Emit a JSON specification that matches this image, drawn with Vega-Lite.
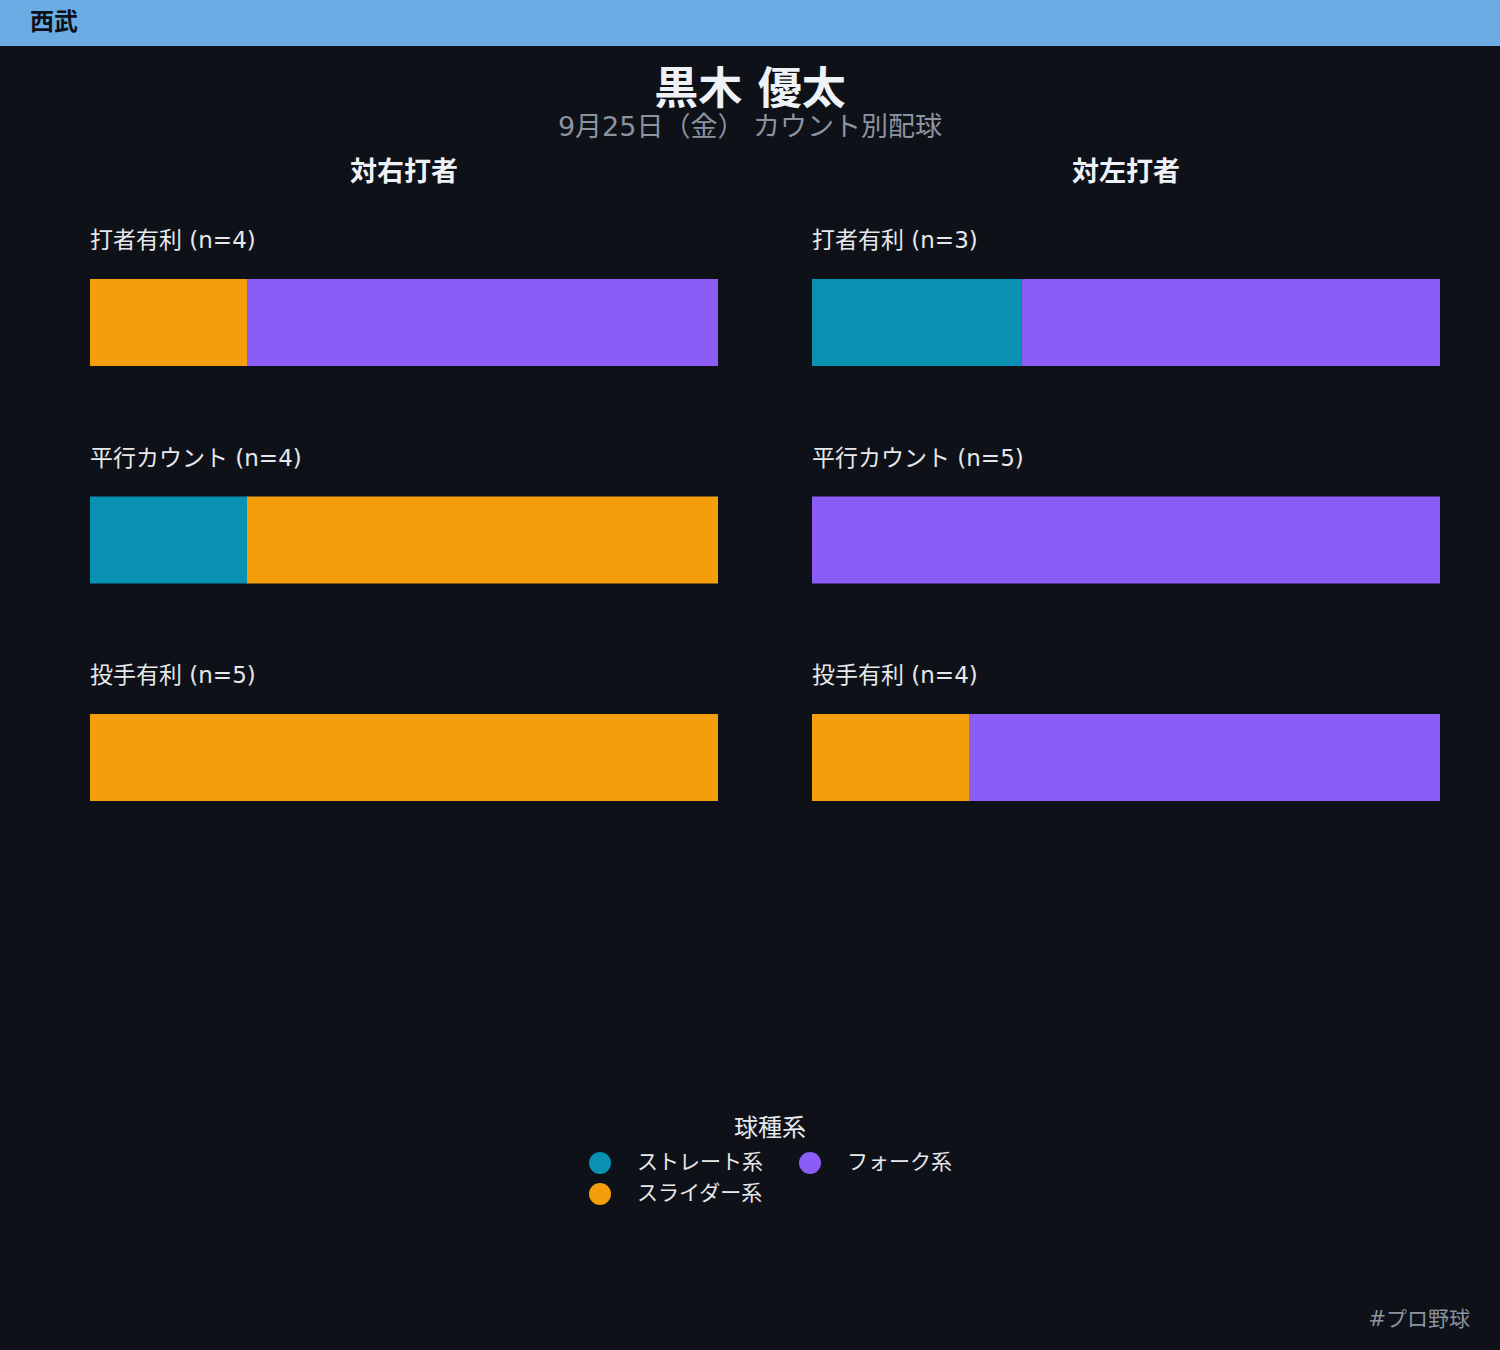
{
  "$schema": "https://vega.github.io/schema/vega-lite/v6.json",
  "background": "#0e1117",
  "padding": 0,
  "spacing": 23,
  "datasets": {
    "pitches": [
      {"side": "対右打者", "sit": "打者有利", "label": "打者有利 (n=4)", "type": "スライダー系", "ord": 2, "count": 1},
      {"side": "対右打者", "sit": "打者有利", "label": "打者有利 (n=4)", "type": "フォーク系", "ord": 3, "count": 3},
      {"side": "対右打者", "sit": "平行カウント", "label": "平行カウント (n=4)", "type": "ストレート系", "ord": 1, "count": 1},
      {"side": "対右打者", "sit": "平行カウント", "label": "平行カウント (n=4)", "type": "スライダー系", "ord": 2, "count": 3},
      {"side": "対右打者", "sit": "投手有利", "label": "投手有利 (n=5)", "type": "スライダー系", "ord": 2, "count": 5},
      {"side": "対左打者", "sit": "打者有利", "label": "打者有利 (n=3)", "type": "ストレート系", "ord": 1, "count": 1},
      {"side": "対左打者", "sit": "打者有利", "label": "打者有利 (n=3)", "type": "フォーク系", "ord": 3, "count": 2},
      {"side": "対左打者", "sit": "平行カウント", "label": "平行カウント (n=5)", "type": "フォーク系", "ord": 3, "count": 5},
      {"side": "対左打者", "sit": "投手有利", "label": "投手有利 (n=4)", "type": "スライダー系", "ord": 2, "count": 1},
      {"side": "対左打者", "sit": "投手有利", "label": "投手有利 (n=4)", "type": "フォーク系", "ord": 3, "count": 3}
    ]
  },
  "vconcat": [
    {
      "width": 1500,
      "height": 46,
      "view": {"fill": "#6cace4", "stroke": null},
      "data": {"values": [{"team": "西武"}]},
      "mark": {"type": "text", "align": "left", "baseline": "middle", "x": 30, "y": 23, "fontSize": 24, "fontWeight": "bold", "color": "#0e1117"},
      "encoding": {"text": {"field": "team"}}
    },
    {
      "title": {
        "text": "黒木 優太",
        "subtitle": "9月25日（金） カウント別配球",
        "fontSize": 44,
        "fontWeight": "bold",
        "color": "#eef1f6",
        "subtitleFontSize": 27,
        "subtitleColor": "#8b939f",
        "subtitlePadding": 2,
        "anchor": "middle",
        "dx": 30,
        "offset": 18
      },
      "spacing": 94,
      "hconcat": [
        {
          "width": 718,
          "height": 1040,
          "data": {"name": "pitches"},
          "transform": [{"filter": "datum.side === '対右打者'"}],
          "title": {"text": "対右打者", "fontSize": 27, "fontWeight": "bold", "color": "#eef1f6", "anchor": "middle", "dx": 45, "offset": 13},
          "layer": [
            {
              "mark": {"type": "bar"},
              "encoding": {
                "y": {"field": "sit", "type": "nominal", "sort": ["打者有利", "平行カウント", "投手有利"], "scale": {"range": [79, 601], "paddingInner": 0.6, "paddingOuter": 0}, "axis": null},
                "x": {"field": "count", "type": "quantitative", "stack": "normalize", "scale": {"range": [90, 718]}, "axis": null},
                "color": {
                  "field": "type",
                  "type": "nominal",
                  "scale": {"domain": ["ストレート系", "スライダー系", "フォーク系"], "range": ["#0891b2", "#f59e0b", "#8b5cf6"]},
                  "legend": {"title": "球種系"}
                },
                "order": {"field": "ord", "type": "quantitative"}
              }
            },
            {
              "transform": [{"aggregate": [{"op": "count", "as": "k"}], "groupby": ["sit", "label"]}],
              "mark": {"type": "text", "align": "left", "baseline": "middle", "dy": -38, "fontSize": 23, "color": "#e6e8ec"},
              "encoding": {
                "y": {"field": "sit", "type": "nominal", "sort": ["打者有利", "平行カウント", "投手有利"], "bandPosition": 0},
                "x": {"datum": 0},
                "text": {"field": "label"}
              }
            }
          ]
        },
        {
          "width": 628,
          "height": 1040,
          "data": {"name": "pitches"},
          "transform": [{"filter": "datum.side === '対左打者'"}],
          "title": {"text": "対左打者", "fontSize": 27, "fontWeight": "bold", "color": "#eef1f6", "anchor": "middle", "offset": 13},
          "layer": [
            {
              "mark": {"type": "bar"},
              "encoding": {
                "y": {"field": "sit", "type": "nominal", "sort": ["打者有利", "平行カウント", "投手有利"], "scale": {"range": [79, 601], "paddingInner": 0.6, "paddingOuter": 0}, "axis": null},
                "x": {"field": "count", "type": "quantitative", "stack": "normalize", "axis": null},
                "color": {"field": "type", "type": "nominal", "legend": {"title": "球種系"}},
                "order": {"field": "ord", "type": "quantitative"}
              }
            },
            {
              "transform": [{"aggregate": [{"op": "count", "as": "k"}], "groupby": ["sit", "label"]}],
              "mark": {"type": "text", "align": "left", "baseline": "middle", "dy": -38, "fontSize": 23, "color": "#e6e8ec"},
              "encoding": {
                "y": {"field": "sit", "type": "nominal", "sort": ["打者有利", "平行カウント", "投手有利"], "bandPosition": 0},
                "x": {"datum": 0},
                "text": {"field": "label"}
              }
            }
          ]
        }
      ]
    },
    {
      "width": 1500,
      "height": 93,
      "data": {"values": [{"tag": "#プロ野球"}]},
      "mark": {"type": "text", "align": "right", "baseline": "middle", "x": 1470, "y": 57, "fontSize": 21, "color": "#8b939f"},
      "encoding": {"text": {"field": "tag"}}
    }
  ],
  "resolve": {"scale": {"color": "shared"}},
  "config": {
    "view": {"stroke": null},
    "font": "DejaVu Sans, Noto Sans CJK JP",
    "legend": {
      "orient": "none",
      "legendX": 589,
      "legendY": 1117,
      "direction": "vertical",
      "columns": 2,
      "titleFontSize": 24,
      "titleFontWeight": "normal",
      "titleColor": "#e6e8ec",
      "titleAnchor": "middle",
      "titlePadding": 11,
      "labelFontSize": 21,
      "labelColor": "#e6e8ec",
      "labelOffset": 26,
      "symbolType": "circle",
      "symbolSize": 484,
      "symbolStrokeWidth": 0,
      "symbolOpacity": 1,
      "columnPadding": 36,
      "rowPadding": 9,
      "padding": 0
    }
  }
}
